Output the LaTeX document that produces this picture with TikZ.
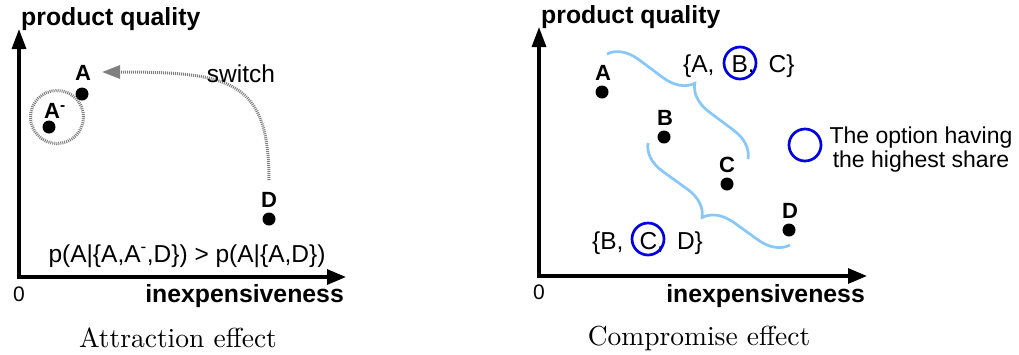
\documentclass[tikz,border=0pt]{standalone}
\usepackage{fontspec}
\newfontfamily\arial{Liberation Sans}
\newfontfamily\capfont{lmroman10-regular}[Extension=.otf]
\usetikzlibrary{arrows.meta,decorations.pathreplacing}
\definecolor{braceblue}{RGB}{135,199,250}
\definecolor{markblue}{RGB}{0,0,225}
\definecolor{switchgray}{RGB}{128,128,128}
\begin{document}
\begin{tikzpicture}[x=1pt,y=-1pt,
  axes/.style={line width=3.2pt,{Triangle[length=20pt,width=14pt]}-{Triangle[length=19pt,width=15pt]}},
  dot/.style={circle,fill=black,inner sep=0pt,minimum size=13pt},
  ptlabel/.style={font=\arial\bfseries\fontsize{22}{24}\selectfont,inner sep=0pt},
  axlabel/.style={font=\arial\bfseries\fontsize{24.8}{28}\selectfont,inner sep=0pt},
  plain/.style={font=\arial\fontsize{24.5}{28}\selectfont,inner sep=0pt},
  zero/.style={font=\arial\fontsize{21}{24}\selectfont,inner sep=0pt},
  caption/.style={font=\capfont\fontsize{27.5}{30}\selectfont,inner sep=0pt},
  bracepath/.style={draw=braceblue,line width=2.7pt,decorate,decoration={brace,amplitude=29pt}},
  choice/.style={draw=markblue,line width=2.7pt,circle,minimum size=32pt,inner sep=0pt},
  graydots/.style={draw=switchgray,line width=3pt,dash pattern=on 1pt off 1pt},
]
\useasboundingbox (0,0) rectangle (1019,354);

% ---------------- Attraction effect ----------------
\coordinate (Y1) at (19,29);
\coordinate (X1) at (346,277);
\draw[axes] (Y1) |- (X1);
\node[axlabel,anchor=base west] (pq1) at (21,25) {product quality};
\node[axlabel,anchor=base east] (ie1) at (344,302) {inexpensiveness};
\node[zero] (z1) at (19,294) {0};

\node[dot] (A1) at (82,94) {};
\node[dot] (Am) at (49,127) {};
\node[dot] (D1) at (269,219) {};
\node[ptlabel,anchor=base] (A1l) at (83,80) {A};
\node[ptlabel,anchor=base west] (Aml) at (44,118) {A\textsuperscript{-}};
\node[ptlabel,anchor=base] (D1l) at (269,207) {D};

\node[graydots,circle,minimum size=53pt,inner sep=0pt] (decoy) at (57,117) {};

\coordinate (sws) at (269,180);
\coordinate (swe) at (102,72);
\draw[graydots,-{Triangle[length=18pt,width=13pt,fill=switchgray]}]
  (sws) .. controls (269,80) and (230,72) .. (swe);
\node[plain,anchor=base] (swl) at (241,82) {switch};

\node[plain,anchor=base] (form) at (187,262)
  {p(A|\{A,A\textsuperscript{-},D\}) > p(A|\{A,D\})};

\node[caption,anchor=base] (cap1) at (178,347) {Attraction effect};

% ---------------- Compromise effect ----------------
\coordinate (Y2) at (539,27);
\coordinate (X2) at (867,276);
\draw[axes] (Y2) |- (X2);
\node[axlabel,anchor=base west] (pq2) at (541,23) {product quality};
\node[axlabel,anchor=base east] (ie2) at (865,302) {inexpensiveness};
\node[zero] (z2) at (539,292) {0};

\node[dot] (A2) at (602,92) {};
\node[dot] (B2) at (664,137) {};
\node[dot] (C2) at (727,184) {};
\node[dot] (D2) at (789,230) {};
\node[ptlabel,anchor=base] (A2l) at (603,80) {A};
\node[ptlabel,anchor=base] (B2l) at (665,125) {B};
\node[ptlabel,anchor=base] (C2l) at (727,172) {C};
\node[ptlabel,anchor=base] (D2l) at (790,218) {D};

\coordinate (b1s) at (607,54);
\coordinate (b1e) at (748,159);
\draw[bracepath] (b1s) -- (b1e);
\coordinate (b2s) at (790,245);
\coordinate (b2e) at (648,143);
\draw[bracepath] (b2s) -- (b2e);

\node[plain,anchor=base west] (setABC) at (683,72)
  {\{A,\hspace{17pt}B,\hspace{14pt}C\}};
\node[choice] (ringB) at (740,63) {};

\node[plain,anchor=base west] (setBCD) at (592,249)
  {\{B,\hspace{16pt}C,\hspace{13pt}D\}};
\node[choice] (ringC) at (648,239) {};

\node[choice] (ringLegend) at (805,145) {};
\node[font=\arial\fontsize{23}{24}\selectfont,inner sep=0pt,align=center,anchor=base]
  (legend) at (921,167) {The option having\\the highest share};

\node[caption,anchor=base] (cap2) at (699,345) {Compromise effect};
\end{tikzpicture}
\end{document}
